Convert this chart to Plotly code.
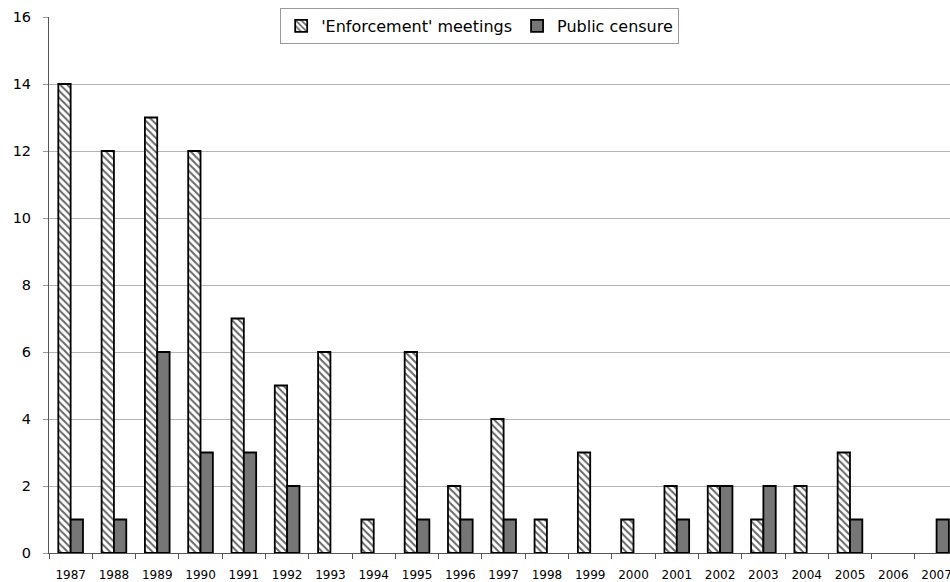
import plotly.graph_objects as go

years = [str(y) for y in range(1987, 2008)]
enforcement = [14, 12, 13, 12, 7, 5, 6, 1, 6, 2, 4, 1, 3, 1, 2, 2, 1, 2, 3, 0, 0]
censure = [1, 1, 6, 3, 3, 2, 0, 0, 1, 1, 1, 0, 0, 0, 1, 2, 2, 0, 1, 0, 1]


def outline(vals):
    return [0 if v == 0 else 1.8 for v in vals]


fig = go.Figure()
fig.add_trace(go.Bar(
    x=years, y=enforcement, name="'Enforcement' meetings",
    marker=dict(color="white", line=dict(color="black", width=outline(enforcement)),
                pattern=dict(shape="\\", fgcolor="#666666", bgcolor="white",
                             size=5, solidity=0.4)),
))
fig.add_trace(go.Bar(
    x=years, y=censure, name="Public censure",
    marker=dict(color="#767676", line=dict(color="black", width=outline(censure))),
))

fig.update_layout(
    template="none",
    width=950, height=582,
    margin=dict(l=49, r=0, t=17, b=29, pad=0),
    paper_bgcolor="white", plot_bgcolor="white",
    barmode="group", bargap=0.43, bargroupgap=0,
    font=dict(family="DejaVu Sans, sans-serif", color="black"),
    legend=dict(orientation="h", x=0.478, xanchor="center", y=1.0168, yanchor="top",
                bgcolor="white", bordercolor="#999999", borderwidth=1,
                font=dict(size=16), itemwidth=30, tracegroupgap=0),
    showlegend=True,
)
fig.update_xaxes(
    type="category", range=[-0.5, 20.31], automargin=False,
    showline=True, linecolor="#555555", linewidth=1,
    ticks="outside", tickson="boundaries", ticklen=5, tickcolor="#555555",
    tickfont=dict(size=12), ticklabelstandoff=11, showgrid=False, zeroline=False,
)
fig.update_yaxes(
    range=[0, 16], dtick=2, tick0=0, automargin=False,
    showline=True, linecolor="#555555", linewidth=1,
    ticks="outside", ticklen=5, tickcolor="#999999",
    showgrid=True, gridcolor="#b4b4b4", gridwidth=1,
    tickfont=dict(size=14.5), ticklabelstandoff=9, zeroline=False,
)

fig.write_html(
    "out.html",
    config={"displayModeBar": False},
    post_script="document.body.style.margin='0';document.body.style.overflow='hidden';",
)
